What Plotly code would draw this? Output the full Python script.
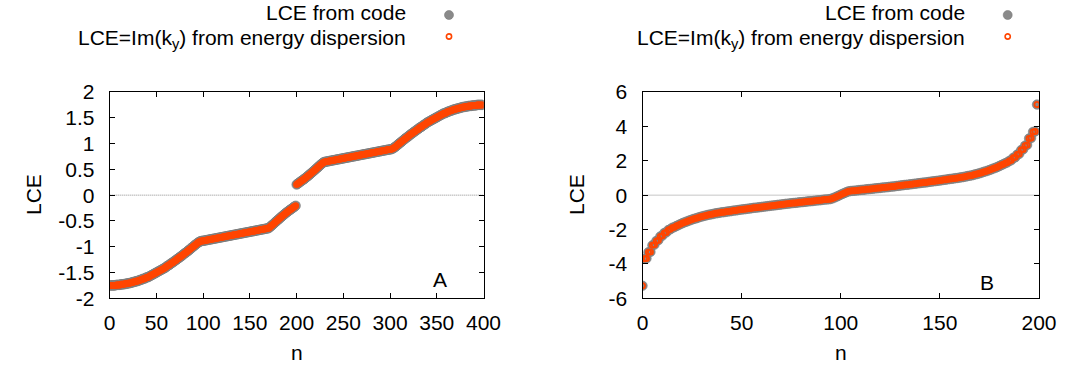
import plotly.graph_objects as go

# ---------------- data ----------------
n_a = list(range(400))
# Panel A: LCE values (the "code" and "energy dispersion" sets coincide)
lce_a = [
    -1.75, -1.75, -1.75, -1.75, -1.75, -1.75, -1.75, -1.74, -1.74, -1.74,
    -1.74, -1.74, -1.73, -1.73, -1.73, -1.73, -1.72, -1.72, -1.72, -1.71,
    -1.71, -1.71, -1.70, -1.70, -1.69, -1.69, -1.68, -1.68, -1.67, -1.67,
    -1.66, -1.66, -1.65, -1.64, -1.64, -1.63, -1.62, -1.62, -1.61, -1.60,
    -1.59, -1.59, -1.58, -1.57, -1.56, -1.55, -1.54, -1.53, -1.52, -1.51,
    -1.50, -1.49, -1.48, -1.47, -1.46, -1.45, -1.44, -1.43, -1.42, -1.41,
    -1.40, -1.38, -1.37, -1.36, -1.35, -1.33, -1.32, -1.31, -1.30, -1.28,
    -1.27, -1.26, -1.24, -1.23, -1.22, -1.20, -1.19, -1.18, -1.16, -1.15,
    -1.13, -1.12, -1.11, -1.09, -1.08, -1.06, -1.05, -1.03, -1.02, -1.00,
    -0.99, -0.97, -0.96, -0.94, -0.93, -0.915, -0.905, -0.895, -0.89, -0.887,
    -0.885, -0.882, -0.878, -0.875, -0.871, -0.868, -0.864, -0.861, -0.857, -0.854,
    -0.850, -0.847, -0.843, -0.840, -0.836, -0.833, -0.829, -0.826, -0.822, -0.819,
    -0.815, -0.812, -0.808, -0.805, -0.801, -0.798, -0.794, -0.791, -0.787, -0.784,
    -0.780, -0.777, -0.773, -0.770, -0.766, -0.763, -0.759, -0.756, -0.752, -0.749,
    -0.745, -0.742, -0.738, -0.735, -0.731, -0.728, -0.724, -0.721, -0.717, -0.714,
    -0.710, -0.707, -0.703, -0.700, -0.696, -0.693, -0.689, -0.686, -0.682, -0.679,
    -0.675, -0.672, -0.668, -0.665, -0.661, -0.658, -0.654, -0.651, -0.647, -0.644,
    -0.640, -0.625, -0.610, -0.594, -0.578, -0.562, -0.545, -0.529, -0.512, -0.496,
    -0.480, -0.464, -0.448, -0.432, -0.416, -0.400, -0.385, -0.370, -0.355, -0.340,
    -0.326, -0.312, -0.298, -0.285, -0.272, -0.260, -0.245, -0.232, -0.220, -0.205,
    0.205, 0.220, 0.232, 0.245, 0.260, 0.272, 0.285, 0.298, 0.312, 0.326,
    0.340, 0.355, 0.370, 0.385, 0.400, 0.416, 0.432, 0.448, 0.464, 0.480,
    0.496, 0.512, 0.529, 0.545, 0.562, 0.578, 0.594, 0.610, 0.625, 0.640,
    0.644, 0.647, 0.651, 0.654, 0.658, 0.661, 0.665, 0.668, 0.672, 0.675,
    0.679, 0.682, 0.686, 0.689, 0.693, 0.696, 0.700, 0.703, 0.707, 0.710,
    0.714, 0.717, 0.721, 0.724, 0.728, 0.731, 0.735, 0.738, 0.742, 0.745,
    0.749, 0.752, 0.756, 0.759, 0.763, 0.766, 0.770, 0.773, 0.777, 0.780,
    0.784, 0.787, 0.791, 0.794, 0.798, 0.801, 0.805, 0.808, 0.812, 0.815,
    0.819, 0.822, 0.826, 0.829, 0.833, 0.836, 0.840, 0.843, 0.847, 0.850,
    0.854, 0.857, 0.861, 0.864, 0.868, 0.871, 0.875, 0.878, 0.882, 0.885,
    0.887, 0.89, 0.895, 0.905, 0.915, 0.93, 0.94, 0.96, 0.97, 0.99,
    1.00, 1.02, 1.03, 1.05, 1.06, 1.08, 1.09, 1.11, 1.12, 1.13,
    1.15, 1.16, 1.18, 1.19, 1.20, 1.22, 1.23, 1.24, 1.26, 1.27,
    1.28, 1.30, 1.31, 1.32, 1.33, 1.35, 1.36, 1.37, 1.38, 1.40,
    1.41, 1.42, 1.43, 1.44, 1.45, 1.46, 1.47, 1.48, 1.49, 1.50,
    1.51, 1.52, 1.53, 1.54, 1.55, 1.56, 1.57, 1.58, 1.59, 1.59,
    1.60, 1.61, 1.62, 1.62, 1.63, 1.64, 1.64, 1.65, 1.66, 1.66,
    1.67, 1.67, 1.68, 1.68, 1.69, 1.69, 1.70, 1.70, 1.71, 1.71,
    1.71, 1.72, 1.72, 1.72, 1.73, 1.73, 1.73, 1.73, 1.74, 1.74,
    1.74, 1.74, 1.74, 1.75, 1.75, 1.75, 1.75, 1.75, 1.75, 1.75,
]
lce_a_code = lce_a
lce_a_disp = lce_a

n_b = list(range(200))
lce_b = [
    -5.27, -3.70, -3.68, -3.32, -3.30, -2.92, -2.88, -2.66, -2.62, -2.40,
    -2.36, -2.20, -2.17, -2.03, -1.99, -1.90, -1.86, -1.80, -1.75, -1.69,
    -1.64, -1.59, -1.55, -1.50, -1.46, -1.42, -1.38, -1.35, -1.31, -1.27,
    -1.24, -1.21, -1.18, -1.15, -1.13, -1.11, -1.08, -1.06, -1.04, -1.02,
    -1.00, -0.99, -0.97, -0.95, -0.94, -0.92, -0.90, -0.89, -0.87, -0.85,
    -0.84, -0.82, -0.81, -0.79, -0.78, -0.76, -0.74, -0.73, -0.72, -0.70,
    -0.69, -0.67, -0.66, -0.64, -0.63, -0.61, -0.60, -0.59, -0.57, -0.56,
    -0.54, -0.53, -0.51, -0.50, -0.49, -0.47, -0.46, -0.45, -0.44, -0.42,
    -0.41, -0.40, -0.39, -0.37, -0.36, -0.35, -0.34, -0.32, -0.31, -0.30,
    -0.29, -0.27, -0.26, -0.25, -0.24, -0.22, -0.18, -0.13, -0.08, -0.03,
    0.03, 0.08, 0.13, 0.18, 0.22, 0.24, 0.25, 0.26, 0.27, 0.29,
    0.30, 0.31, 0.32, 0.34, 0.35, 0.36, 0.37, 0.39, 0.40, 0.41,
    0.42, 0.44, 0.45, 0.46, 0.47, 0.49, 0.50, 0.51, 0.53, 0.54,
    0.56, 0.57, 0.59, 0.60, 0.61, 0.63, 0.64, 0.66, 0.67, 0.69,
    0.70, 0.72, 0.73, 0.74, 0.76, 0.78, 0.79, 0.81, 0.82, 0.84,
    0.85, 0.87, 0.89, 0.90, 0.92, 0.94, 0.95, 0.97, 0.99, 1.00,
    1.02, 1.04, 1.06, 1.08, 1.11, 1.13, 1.15, 1.18, 1.21, 1.24,
    1.27, 1.31, 1.35, 1.38, 1.42, 1.46, 1.50, 1.55, 1.59, 1.64,
    1.69, 1.75, 1.80, 1.86, 1.90, 1.99, 2.03, 2.17, 2.20, 2.36,
    2.40, 2.62, 2.66, 2.88, 2.92, 3.30, 3.32, 3.68, 3.70, 5.27,
]
lce_b_code = lce_b
lce_b_disp = lce_b

xticks_a = [0, 50, 100, 150, 200, 250, 300, 350, 400]
yticks_a = [-2, -1.5, -1, -0.5, 0, 0.5, 1, 1.5, 2]
yticktext_a = ["-2", "-1.5", "-1", "-0.5", "0", "0.5", "1", "1.5", "2"]
xticks_b = [0, 50, 100, 150, 200]
yticks_b = [-6, -4, -2, 0, 2, 4, 6]
yticktext_b = ["-6", "-4", "-2", "0", "2", "4", "6"]

label_code = "LCE from code"
label_disp = "LCE=Im(k<sub>y</sub>) from energy dispersion"

# ---------------- style ----------------
W, H = 1070, 365
FONT = "Liberation Sans, Arial, Helvetica, sans-serif"
FS = 21
GRAY = "#8a8a8a"
ORANGE = "#ff4500"

def px_x(p):
    return p / W

def px_y(p):
    return 1 - p / H

dom_y = [px_y(298.3), px_y(92.0)]
dom_xa = [px_x(109.7), px_x(483.5)]
dom_xb = [px_x(642.5), px_x(1039.0)]

fig = go.Figure()

gray_marker = dict(symbol="circle", size=9.5, color=GRAY, line=dict(color="#7a7a7a", width=0.6))
orange_marker = dict(symbol="circle-open", size=5.2, color=ORANGE, line=dict(color=ORANGE, width=1.8))

fig.add_trace(go.Scatter(x=n_a, y=lce_a_code, mode="markers", marker=gray_marker,
                         name="LCE from code", showlegend=False, xaxis="x", yaxis="y"))
fig.add_trace(go.Scatter(x=n_a, y=lce_a_disp, mode="markers", marker=orange_marker,
                         name="LCE=Im(k_y) from energy dispersion", showlegend=False, xaxis="x", yaxis="y"))
fig.add_trace(go.Scatter(x=n_b, y=lce_b_code, mode="markers", marker=gray_marker,
                         name="LCE from code", showlegend=False, xaxis="x2", yaxis="y2"))
fig.add_trace(go.Scatter(x=n_b, y=lce_b_disp, mode="markers", marker=orange_marker,
                         name="LCE=Im(k_y) from energy dispersion", showlegend=False, xaxis="x2", yaxis="y2"))

axis_common = dict(
    showline=True, linecolor="black", linewidth=1, mirror="ticks",
    ticks="inside", ticklen=5, tickwidth=1, tickcolor="black",
    showgrid=False, zeroline=False, automargin=False,
    tickfont=dict(family=FONT, size=FS, color="black"),
)

fig.update_layout(
    width=W, height=H, autosize=False,
    margin=dict(l=0, r=0, t=0, b=0, autoexpand=False),
    paper_bgcolor="white", plot_bgcolor="white",
    font=dict(family=FONT, size=FS, color="black"),
    xaxis=dict(domain=dom_xa, range=[0, 400], tickvals=xticks_a,
               ticklabelstandoff=5, anchor="y", **axis_common),
    yaxis=dict(domain=dom_y, range=[-2, 2], tickvals=yticks_a, ticktext=yticktext_a,
               ticklabelstandoff=10, anchor="x", **axis_common),
    xaxis2=dict(domain=dom_xb, range=[0, 200], tickvals=xticks_b,
                ticklabelstandoff=5, anchor="y2", **axis_common),
    yaxis2=dict(domain=dom_y, range=[-6, 6], tickvals=yticks_b, ticktext=yticktext_b,
                ticklabelstandoff=10, anchor="x2", **axis_common),
)

shapes = []
# dotted zero lines
for xr, yr in (("x domain", "y"), ("x2 domain", "y2")):
    shapes.append(dict(type="line", xref=xr, yref=yr, x0=0, x1=1, y0=0, y1=0,
                       line=dict(color="#8c8c8c", width=1, dash="1px,1px"), layer="below"))

# legend keys (gnuplot style: text left, symbol right)
annotations = []
SPLIT = 25.0  # pixel row boundary between the two key lines
for text_right, key_x in ((406.7, 449.0), (966.0, 1007.7)):
    annotations.append(dict(text=label_code, xref="paper", yref="paper",
                            x=px_x(text_right), y=px_y(SPLIT), xanchor="right", yanchor="bottom",
                            showarrow=False, borderpad=0,
                            font=dict(family=FONT, size=FS, color="black")))
    annotations.append(dict(text=label_disp, xref="paper", yref="paper",
                            x=px_x(text_right), y=px_y(SPLIT), xanchor="right", yanchor="top",
                            showarrow=False, borderpad=0,
                            font=dict(family=FONT, size=FS, color="black")))
    shapes.append(dict(type="circle", xref="paper", yref="paper",
                       xsizemode="pixel", ysizemode="pixel",
                       xanchor=px_x(key_x), yanchor=px_y(15.0),
                       x0=-4.5, x1=4.5, y0=-4.5, y1=4.5,
                       fillcolor=GRAY, line=dict(color="#7a7a7a", width=0.6)))
    shapes.append(dict(type="circle", xref="paper", yref="paper",
                       xsizemode="pixel", ysizemode="pixel",
                       xanchor=px_x(key_x), yanchor=px_y(36.5),
                       x0=-2.6, x1=2.6, y0=-2.6, y1=2.6,
                       fillcolor="white", line=dict(color=ORANGE, width=1.6)))

# axis titles and panel letters
for txt, x, y, ang, ya in (("LCE", 33.0, 195.0, -90, "middle"), ("LCE", 576.0, 195.0, -90, "middle"),
                           ("n", 296.6, 365.0, 0, "bottom"), ("n", 840.8, 365.0, 0, "bottom"),
                           ("A", 439.7, 279.5, 0, "middle"), ("B", 986.7, 282.0, 0, "middle")):
    annotations.append(dict(text=txt, xref="paper", yref="paper", x=px_x(x), y=px_y(y),
                            xanchor="center", yanchor=ya, textangle=ang, showarrow=False,
                            borderpad=0, font=dict(family=FONT, size=FS, color="black")))

fig.update_layout(shapes=shapes, annotations=annotations)

fig.write_html("out.html", config={"responsive": False},
               post_script="document.body.style.margin='0';document.body.style.overflow='hidden';")
